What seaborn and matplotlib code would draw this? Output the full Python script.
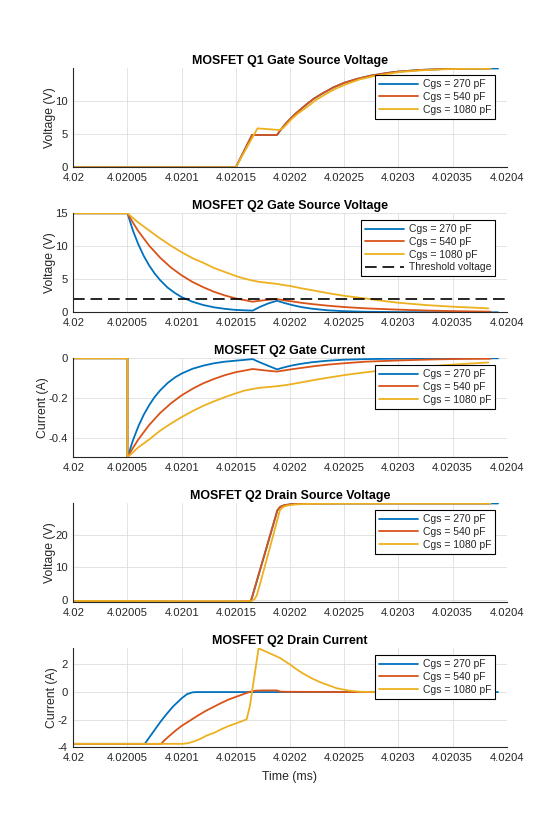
import numpy as np
import pandas as pd
import matplotlib
matplotlib.use("Agg")
import matplotlib.pyplot as plt
import seaborn as sns

# ---------------- data (time offsets in ns after 4.02 ms) ----------------
T0_MS = 4.02
series_labels = ["Cgs = 270 pF", "Cgs = 540 pF", "Cgs = 1080 pF"]
series_colors = ["#0072BD", "#D95319", "#EDB120"]

# Panel 1: MOSFET Q1 gate-source voltage (V)
q1_t_270 = [0, 150, 165, 188, 192, 196, 200, 205, 210, 215, 222, 230, 240, 250, 262, 275, 290, 300, 320, 340, 360, 385, 392]
q1_v_270 = [0, 0, 4.9, 4.9, 5.8, 6.6, 7.3, 8.1, 8.8, 9.5, 10.4, 11.2, 12.1, 12.8, 13.4, 13.9, 14.3, 14.5, 14.75, 14.88, 14.94, 14.97, 14.97]
q1_t_540 = [0, 150, 165, 188, 192, 196, 200, 205, 210, 215, 222, 230, 240, 250, 262, 275, 290, 300, 320, 340, 360, 385]
q1_v_540 = [0, 0, 4.9, 4.9, 5.8, 6.6, 7.3, 8.1, 8.8, 9.5, 10.4, 11.2, 12.1, 12.8, 13.4, 13.9, 14.3, 14.5, 14.75, 14.88, 14.94, 14.97]
q1_t_1080 = [0, 150, 170, 190, 194, 198, 202, 207, 212, 217, 224, 232, 242, 252, 264, 277, 292, 302, 322, 342, 362, 385]
q1_v_1080 = [0, 0, 5.9, 5.65, 6.0, 6.7, 7.4, 8.1, 8.7, 9.3, 10.2, 11.0, 11.9, 12.6, 13.3, 13.8, 14.2, 14.45, 14.7, 14.85, 14.92, 14.96]

# Panel 2: MOSFET Q2 gate-source voltage (V)
q2v_t_270 = [0, 50, 55, 60, 65, 70, 75, 80, 87, 94, 100, 110, 120, 130, 140, 150, 158, 165.5, 172, 180, 188, 195, 202, 210, 220, 235, 250, 270, 300, 340, 392]
q2v_v_270 = [15, 15, 12.4, 10.3, 8.55, 7.1, 5.9, 4.9, 3.75, 2.9, 2.3, 1.6, 1.1, 0.75, 0.52, 0.36, 0.3, 0.25, 0.8, 1.35, 1.75, 1.4, 1.1, 0.8, 0.55, 0.3, 0.17, 0.08, 0.03, 0.01, 0.0]
q2v_t_540 = [0, 50, 55, 60, 70, 80, 90, 100, 110, 120, 130, 140, 150, 158, 165.5, 172, 180, 188, 195, 202, 210, 220, 235, 250, 270, 300, 330, 360, 385]
q2v_v_540 = [15, 15, 13.6, 12.3, 10.1, 8.3, 6.8, 5.6, 4.6, 3.8, 3.1, 2.55, 2.1, 1.85, 1.6, 1.75, 1.9, 2.0, 1.8, 1.65, 1.45, 1.25, 1.0, 0.8, 0.6, 0.4, 0.25, 0.15, 0.1]
q2v_t_1080 = [0, 50, 60, 70, 80, 90, 100, 110, 120, 130, 140, 150, 158, 165.5, 172, 180, 188, 195, 200, 210, 222, 235, 250, 262, 274, 287, 300, 325, 350, 383]
q2v_v_1080 = [15, 15, 13.6, 12.4, 11.2, 10.1, 9.1, 8.2, 7.5, 6.7, 6.1, 5.5, 5.1, 4.8, 4.6, 4.45, 4.3, 4.1, 4.0, 3.65, 3.3, 2.9, 2.5, 2.25, 2.0, 1.7, 1.45, 1.1, 0.85, 0.6]
threshold_label = "Threshold voltage"
threshold_t = [0, 400]
threshold_v = [2.0, 2.0]

# Panel 3: MOSFET Q2 gate current (A)
q2i_t_270 = [0, 50, 50, 55, 60, 65, 70, 75, 80, 87, 94, 100, 110, 120, 130, 140, 150, 158, 165.5, 172, 180, 188, 195, 202, 210, 220, 235, 250, 270, 300, 340, 392]
q2i_v_270 = [0, 0, -0.5, -0.415, -0.344, -0.285, -0.237, -0.196, -0.163, -0.125, -0.096, -0.077, -0.053, -0.037, -0.025, -0.017, -0.012, -0.008, -0.004, -0.02, -0.038, -0.056, -0.045, -0.036, -0.028, -0.02, -0.012, -0.007, -0.004, -0.002, -0.001, 0.0]
q2i_t_540 = [0, 50, 50, 55, 60, 70, 80, 90, 100, 110, 120, 130, 140, 150, 158, 165.5, 172, 180, 188, 195, 202, 210, 222, 235, 250, 270, 300, 330, 360, 385]
q2i_v_540 = [0, 0, -0.5, -0.453, -0.41, -0.337, -0.277, -0.228, -0.187, -0.154, -0.126, -0.104, -0.085, -0.07, -0.062, -0.054, -0.058, -0.063, -0.067, -0.061, -0.055, -0.049, -0.04, -0.032, -0.025, -0.017, -0.011, -0.006, -0.003, -0.002]
q2i_t_1080 = [0, 50, 50, 60, 70, 80, 90, 100, 110, 120, 130, 140, 150, 158, 165.5, 172, 180, 188, 195, 200, 210, 222, 235, 250, 262, 274, 287, 300, 325, 350, 383]
q2i_v_1080 = [0, 0, -0.5, -0.45, -0.41, -0.366, -0.33, -0.297, -0.267, -0.24, -0.217, -0.196, -0.177, -0.163, -0.155, -0.149, -0.145, -0.141, -0.136, -0.132, -0.122, -0.11, -0.098, -0.085, -0.076, -0.068, -0.06, -0.053, -0.042, -0.032, -0.021]

# Panel 4: MOSFET Q2 drain-source voltage (V)
q2vds_t_270 = [0, 50, 100, 150, 163.7, 165, 170, 175, 180, 185, 188.3, 191, 195, 202, 215, 250, 392]
q2vds_v_270 = [-0.4, -0.45, -0.6, -0.55, -0.5, 0.8, 6.5, 12.2, 17.9, 23.6, 27.4, 28.5, 29.1, 29.4, 29.55, 29.6, 29.6]
q2vds_t_540 = [0, 50, 100, 150, 163.7, 165, 170, 175, 180, 185, 188.3, 191, 195, 202, 215, 250, 385]
q2vds_v_540 = [-0.35, -0.35, -0.45, -0.45, -0.3, 0.9, 6.6, 12.3, 18.0, 23.7, 27.5, 28.6, 29.1, 29.4, 29.55, 29.6, 29.6]
q2vds_t_1080 = [0, 50, 100, 150, 164, 167, 169.2, 172, 176, 180, 184, 188, 190.8, 194, 198, 205, 215, 240, 385]
q2vds_v_1080 = [-0.3, -0.3, -0.4, -0.4, -0.35, 0.2, 1.3, 4.5, 9.4, 14.3, 19.2, 24.2, 27.6, 28.6, 29.0, 29.3, 29.45, 29.55, 29.6]

# Panel 5: MOSFET Q2 drain current (A)
q2id_t_270 = [0, 66, 70, 75, 80, 86, 92, 100, 105, 110, 114, 392]
q2id_v_270 = [-3.75, -3.75, -3.3, -2.75, -2.2, -1.6, -1.05, -0.45, -0.15, -0.02, 0.0, 0.0]
q2id_t_540 = [0, 81, 84, 89, 95, 100, 108, 115, 123, 130, 135, 143, 150, 157, 163, 168, 175, 188, 191, 200, 250, 385]
q2id_v_540 = [-3.75, -3.75, -3.5, -3.15, -2.75, -2.45, -2.05, -1.7, -1.33, -1.05, -0.85, -0.55, -0.35, -0.15, 0.02, 0.1, 0.12, 0.12, 0.03, 0.02, 0.0, 0.0]
q2id_t_1080 = [0, 101, 106, 111, 117, 123, 130, 135, 142, 150, 156, 160, 163, 165, 168, 171, 180, 188, 191, 196, 200, 206, 212, 220, 228, 236, 243, 250, 255, 265, 280, 385]
q2id_v_1080 = [-3.75, -3.75, -3.7, -3.58, -3.4, -3.15, -2.95, -2.75, -2.5, -2.27, -2.1, -1.97, -1.0, 0.05, 1.6, 3.17, 2.85, 2.57, 2.46, 2.2, 2.0, 1.65, 1.35, 1.0, 0.71, 0.48, 0.28, 0.17, 0.1, 0.02, 0.0, 0.0]

x_ticks_ns = [0, 50, 100, 150, 200, 250, 300, 350, 400]
x_tick_labels = ["4.02", "4.02005", "4.0201", "4.02015", "4.0202", "4.02025", "4.0203", "4.02035", "4.0204"]

panel_titles = ["MOSFET Q1 Gate Source Voltage", "MOSFET Q2 Gate Source Voltage",
                "MOSFET Q2 Gate Current", "MOSFET Q2 Drain Source Voltage",
                "MOSFET Q2 Drain Current"]
panel_ylabels = ["Voltage (V)", "Voltage (V)", "Current (A)", "Voltage (V)", "Current (A)"]
panel_yticks = [[0, 5, 10], [0, 5, 10, 15], [-0.4, -0.2, 0], [0, 10, 20], [-4, -2, 0, 2]]
panel_yticklabels = [["0", "5", "10"], ["0", "5", "10", "15"], ["-0.4", "-0.2", "0"],
                     ["0", "10", "20"], ["-4", "-2", "0", "2"]]
panel_ylims = [(0, 15.0), (0, 15), (-0.5, 0), (-0.7, 29.65), (-4, 3.17)]
x_label = "Time (ms)"

panels = [
    [(q1_t_270, q1_v_270), (q1_t_540, q1_v_540), (q1_t_1080, q1_v_1080)],
    [(q2v_t_270, q2v_v_270), (q2v_t_540, q2v_v_540), (q2v_t_1080, q2v_v_1080)],
    [(q2i_t_270, q2i_v_270), (q2i_t_540, q2i_v_540), (q2i_t_1080, q2i_v_1080)],
    [(q2vds_t_270, q2vds_v_270), (q2vds_t_540, q2vds_v_540), (q2vds_t_1080, q2vds_v_1080)],
    [(q2id_t_270, q2id_v_270), (q2id_t_540, q2id_v_540), (q2id_t_1080, q2id_v_1080)],
]

def ns_to_ms(t):
    return T0_MS + np.asarray(t, dtype=float) * 1e-6

# ---------------- style ----------------
sns.set_theme(style="white")
plt.rcParams["font.family"] = ["Liberation Sans", "DejaVu Sans"]
TXT = "#262626"

fig = plt.figure(figsize=(5.6, 8.4), dpi=100)
W, H = 560.0, 840.0
ax_left, ax_right = 73.3, 506.7
ax_tops = [68.3, 213.3, 358.3, 503.3, 648.3]
ax_h = 99.0

for i, series in enumerate(panels):
    top = ax_tops[i]
    ax = fig.add_axes([ax_left / W, 1 - (top + ax_h) / H, (ax_right - ax_left) / W, ax_h / H])
    rows = []
    for lab, (t, v) in zip(series_labels, series):
        for k, (tt, vv) in enumerate(zip(ns_to_ms(t), v)):
            rows.append({"t": tt, "v": vv, "series": lab, "k": k})
    df = pd.DataFrame(rows)
    sns.lineplot(data=df, x="t", y="v", hue="series", hue_order=series_labels,
                 palette=series_colors, sort=False, estimator=None, lw=1.3,
                 legend=False, ax=ax)
    handles = [plt.Line2D([], [], color=c, lw=1.3) for c in series_colors]
    labels = list(series_labels)
    if i == 1:
        sns.lineplot(x=ns_to_ms(threshold_t), y=threshold_v, color="black", lw=1.2,
                     linestyle=(0, (7, 3.5)), ax=ax, legend=False)
        handles.append(plt.Line2D([], [], color="black", lw=1.2, linestyle=(0, (7, 3.5))))
        labels.append(threshold_label)

    ax.set_xlim(ns_to_ms(0), ns_to_ms(400))
    ax.set_ylim(*panel_ylims[i])
    ax.set_xticks(ns_to_ms(x_ticks_ns), x_tick_labels)
    ax.set_yticks(panel_yticks[i], panel_yticklabels[i])
    ax.grid(True, color="#dedede", lw=0.6)
    ax.set_axisbelow(True)
    for s in ["top", "right"]:
        ax.spines[s].set_visible(False)
    for s in ["left", "bottom"]:
        ax.spines[s].set_color(TXT)
        ax.spines[s].set_linewidth(0.8)
    ax.tick_params(direction="in", length=3, width=0.6, color=TXT, labelcolor=TXT,
                   labelsize=8.1, pad=4)
    ax.set_title(panel_titles[i], fontsize=8.9, fontweight="bold", color="black", pad=3)
    ax.set_ylabel(panel_ylabels[i], fontsize=8.8, color=TXT, labelpad=-0.5)
    if i == 4:
        ax.set_xlabel(x_label, fontsize=8.8, color=TXT, labelpad=6)
    else:
        ax.set_xlabel("")
    leg = ax.legend(handles, labels, loc="upper right", bbox_to_anchor=(0.9735, 0.929),
                    borderaxespad=0, fontsize=7.5, frameon=True, fancybox=False,
                    framealpha=1, edgecolor="black", handlelength=3.7,
                    handletextpad=0.45, labelspacing=0.25, borderpad=0.4)
    leg.get_frame().set_linewidth(0.8)
    for txt in leg.get_texts():
        txt.set_color(TXT)

fig.savefig("out.png", dpi=100)
